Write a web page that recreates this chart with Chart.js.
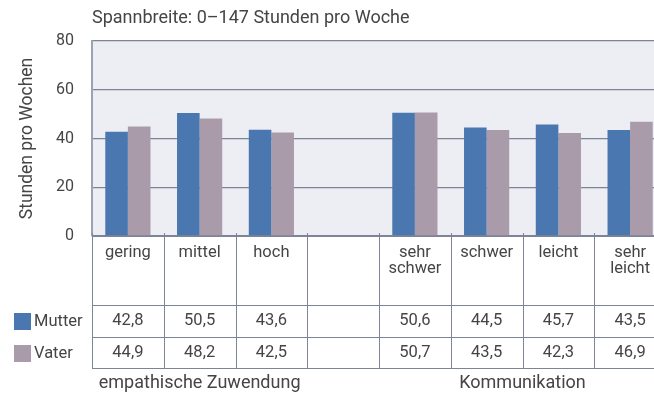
<!DOCTYPE html>
<html>
<head>
<meta charset="utf-8">
<script src="https://cdn.jsdelivr.net/npm/chart.js@4"></script>
<style>
    html, body { margin: 0; padding: 0; background: #ffffff; overflow: hidden; }
    #wrap { width: 666px; height: 394px; }
</style>
</head>
<body>
<div id="wrap"><canvas id="hoursChart" width="666" height="394"></canvas></div>
<script>
var categories = ["gering", "mittel", "hoch", "", ["sehr", "schwer"], "schwer", "leicht", ["sehr", "leicht"]];
var mutterValues = [42.8, 50.5, 43.6, null, 50.6, 44.5, 45.7, 43.5];
var vaterValues = [44.9, 48.2, 42.5, null, 50.7, 43.5, 42.3, 46.9];
var seriesNames = ["Mutter", "Vater"];
var groupLabels = ["empathische Zuwendung", "Kommunikation"];
var groupSpans = [[0, 2], [4, 7]];
var yTicks = [0, 20, 40, 60, 80];
var titleText = "Spannbreite: 0\u2013147 Stunden pro Woche";
var yTitle = "Stunden pro Wochen";

var mutterColor = "#4a77b0";
var vaterColor = "#aa9bab";
var textColor = "#454545";
var lineColor = "#7d8497";
var fontFamily = "Roboto, 'DejaVu Sans', sans-serif";

function format_value(v) {
    return v === null ? "" : v.toFixed(1).replace(".", ",");
}

// plot background + title
var backgroundPlugin = {
    id: "plotBackground",
    beforeDraw: function (chart) {
        var ctx = chart.ctx;
        var a = chart.chartArea;
        ctx.save();
        ctx.fillStyle = "#edeef3";
        ctx.fillRect(a.left, a.top, a.right - a.left, a.bottom - a.top);
        ctx.fillStyle = textColor;
        ctx.font = "18px " + fontFamily;
        ctx.textAlign = "left";
        ctx.textBaseline = "middle";
        ctx.fillText(titleText, a.left, 18);
        ctx.restore();
    },
};

// data table under the bars, built on the x scale
var tablePlugin = {
    id: "dataTable",
    afterDraw: function (chart) {
        var ctx = chart.ctx;
        var a = chart.chartArea;
        var xs = chart.scales.x;
        var colW = (a.right - a.left) / categories.length;
        var rowLabelBottom = a.bottom + 69;
        var rowMutterBottom = rowLabelBottom + 32;
        var rowVaterBottom = rowMutterBottom + 31;
        ctx.save();
        ctx.strokeStyle = lineColor;
        ctx.lineWidth = 1;
        ctx.beginPath();
        for (var i = 0; i <= categories.length; i++) {
            var x = Math.round(a.left + i * colW) + 0.5;
            ctx.moveTo(x, a.bottom - 3);
            ctx.lineTo(x, rowVaterBottom);
        }
        [rowLabelBottom, rowMutterBottom, rowVaterBottom].forEach(function (y) {
            ctx.moveTo(a.left, y + 0.5);
            ctx.lineTo(a.right, y + 0.5);
        });
        ctx.stroke();

        ctx.fillStyle = textColor;
        ctx.font = "16.5px " + fontFamily;
        ctx.textAlign = "center";
        ctx.textBaseline = "middle";
        categories.forEach(function (label, i) {
            var cx = xs.getPixelForValue(i);
            var lines = Array.isArray(label) ? label : [label];
            lines.forEach(function (line, j) {
                ctx.fillText(line, cx, a.bottom + 17 + j * 16);
            });
            ctx.fillText(format_value(mutterValues[i]), cx, rowLabelBottom + 16);
            ctx.fillText(format_value(vaterValues[i]), cx, rowMutterBottom + 16);
        });

        // legend swatches in front of the value rows
        var swatchColors = [mutterColor, vaterColor];
        var rowCenters = [rowLabelBottom + 16, rowMutterBottom + 16];
        ctx.textAlign = "left";
        seriesNames.forEach(function (name, i) {
            ctx.fillStyle = swatchColors[i];
            ctx.fillRect(14, rowCenters[i] - 8, 17, 17);
            ctx.fillStyle = textColor;
            ctx.fillText(name, 34, rowCenters[i] + 1);
        });

        // group captions
        ctx.font = "18px " + fontFamily;
        ctx.textAlign = "center";
        groupLabels.forEach(function (name, i) {
            var left = a.left + groupSpans[i][0] * colW;
            var right = a.left + (groupSpans[i][1] + 1) * colW;
            ctx.fillText(name, (left + right) / 2, rowVaterBottom + 15);
        });
        ctx.restore();
    },
};

var config = {
    type: "bar",
    data: {
        labels: categories,
        datasets: [
            { label: seriesNames[0], data: mutterValues, backgroundColor: mutterColor, borderWidth: 0 },
            { label: seriesNames[1], data: vaterValues, backgroundColor: vaterColor, borderWidth: 0 },
        ],
    },
    options: {
        responsive: false,
        animation: false,
        events: [],
        layout: { padding: { top: 41, bottom: 158, left: 0, right: 0 } },
        datasets: { bar: { categoryPercentage: 0.63, barPercentage: 1.0 } },
        plugins: {
            legend: { display: false },
            title: { display: false },
            tooltip: { enabled: false },
        },
        scales: {
            x: {
                ticks: { display: false },
                grid: { display: false },
                border: { display: true, color: lineColor, width: 1 },
                afterFit: function (scale) {
                    scale.height = 0;
                },
            },
            y: {
                min: yTicks[0],
                max: yTicks[yTicks.length - 1],
                afterBuildTicks: function (scale) {
                    scale.ticks = yTicks.map(function (v) { return { value: v }; });
                },
                ticks: {
                    color: textColor,
                    font: { family: fontFamily, size: 16 },
                    padding: 18,
                },
                grid: { color: lineColor, lineWidth: 1.3, drawTicks: false },
                border: { display: true, color: "#9ca2b2", width: 2 },
                title: {
                    display: true,
                    text: yTitle,
                    color: textColor,
                    font: { family: fontFamily, size: 17.5 },
                    padding: { top: 17, bottom: 0 },
                },
                afterFit: function (scale) {
                    scale.width = 92;
                },
            },
        },
    },
    plugins: [backgroundPlugin, tablePlugin],
};

var hoursChart = new Chart("hoursChart", config);
</script>
</body>
</html>
